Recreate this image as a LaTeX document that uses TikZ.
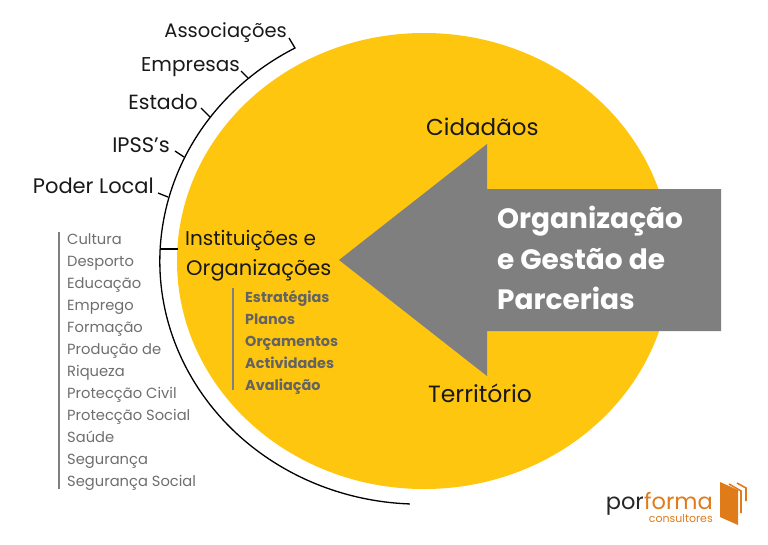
\documentclass[tikz,border=0pt]{standalone}
\usepackage{fontspec}
\setmainfont{Poppins}
\usepackage{xcolor}
\definecolor{discyellow}{HTML}{FFC60F}
\definecolor{arrowgray}{HTML}{7F7F7F}
\definecolor{listgray}{HTML}{6E6E6E}
\definecolor{logoorange}{HTML}{E07B1A}
\tikzset{
  blacklabel/.style={inner sep=0pt, text=black!90, font=\fontsize{#1}{#1}\selectfont},
  blacklabel/.default=20,
  listlabel/.style={inner sep=0pt, anchor=north west, align=left, text=listgray, font=\fontsize{14.7}{22}\selectfont},
  tick/.style={line width=1.3pt, black}
}
\begin{document}
\begin{tikzpicture}[x=1pt, y=-1pt]

\useasboundingbox (0,0) rectangle (768,544);

\coordinate (c) at (424, 261);
\coordinate (arccentre) at (420, 261);
\coordinate (arcstart) at (295, 48);
\coordinate (tip) at (339, 260);
\coordinate (headtop) at (487, 144);
\coordinate (headlow) at (487, 376);
\coordinate (shafttop) at (487, 189);
\coordinate (shaftlow) at (487, 331);
\coordinate (shaftrighttop) at (721, 189);
\coordinate (shaftrightlow) at (721, 331);
\coordinate (assoc) at (289, 38);
\coordinate (empa) at (248, 78);
\coordinate (empb) at (241, 71);
\coordinate (esta) at (210, 117);
\coordinate (estb) at (201, 108);
\coordinate (ipssa) at (184, 157);
\coordinate (ipssb) at (175, 151);
\coordinate (podera) at (168, 197);
\coordinate (poderb) at (158, 193);
\coordinate (insta) at (160, 249);
\coordinate (instb) at (178, 249);

% disc and outer arc
\fill [discyellow] (c) ellipse [x radius=247, y radius=228];
\draw [tick] (assoc) -- (arcstart) arc [start angle=241.3, end angle=92.2, x radius=260, y radius=243];

\draw [tick] (empa) -- (empb);
\draw [tick] (esta) -- (estb);
\draw [tick] (ipssa) -- (ipssb);
\draw [tick] (podera) -- (poderb);
\draw [tick] (insta) -- (instb);

% arrow
\fill [arrowgray] (tip) -- (headtop) -- (shafttop) -- (shaftrighttop) -- (shaftrightlow) -- (shaftlow) -- (headlow) -- cycle;

% labels
\node [blacklabel=19.5, anchor=base east] (associacoes) at (287, 37) {Associações};
\node [blacklabel, anchor=base east] (empresas) at (240, 71) {Empresas};
\node [blacklabel=20.5, anchor=base east] (estado) at (198, 109) {Estado};
\node [blacklabel=21, anchor=base east] (ipss) at (170, 152) {IPSS's};
\node [blacklabel=21, anchor=base east] (poderlocal) at (154, 193) {Poder Local};
\node [blacklabel, anchor=base west] (instituicoes) at (185, 245) {Instituições e};
\node [blacklabel=21, anchor=base west] (organizacoes) at (186, 275) {Organizações};
\node [blacklabel=23, anchor=base west] (cidadaos) at (426, 135) {Cidadãos};
\node [blacklabel=23.5, anchor=base west] (territorio) at (428, 402) {Território};

\node [inner sep=0pt, anchor=north west, align=left, text=white, font=\fontsize{28}{40.5}\selectfont\bfseries] (parcerias) at (497, 206) {Organização\\e Gestão de\\Parcerias};

\draw [line width=1.2pt, arrowgray] (59, 232) -- (59, 489);
\node [listlabel] (areas) at (67, 233) {Cultura\\Desporto\\Educação\\Emprego\\Formação\\Produção de\\Riqueza\\Protecção Civil\\Protecção Social\\Saúde\\Segurança\\Segurança Social};

\draw [line width=1.2pt, arrowgray] (233, 288) -- (233, 390);
\node [listlabel, text=listgray!90!black, font=\fontsize{14.4}{22}\selectfont\bfseries] (planos) at (245, 290) {Estratégias\\Planos\\Orçamentos\\Actividades\\Avaliação};

% logo
\node [inner sep=0pt, anchor=base east, text=logoorange, font=\fontsize{22.5}{23}\selectfont] (logoforma) at (713, 509) {forma};
\node [inner sep=0pt, anchor=base east, text=black!85, font=\fontsize{22.5}{23}\selectfont] (logopor) at (logoforma.base west) {por};
\node [inner sep=0pt, anchor=base east, text=logoorange, font=\fontsize{11}{12}\selectfont] (logoconsult) at (713, 522) {consultores};
\fill [logoorange] (720, 482) -- (738, 490) -- (738, 525) -- (720, 517) -- cycle;
\draw [logoorange, line width=1.6pt] (729, 484) -- (741, 491) -- (741, 513);
\draw [logoorange, line width=1.6pt] (737, 483) -- (746, 488) -- (746, 501);

\end{tikzpicture}
\end{document}
